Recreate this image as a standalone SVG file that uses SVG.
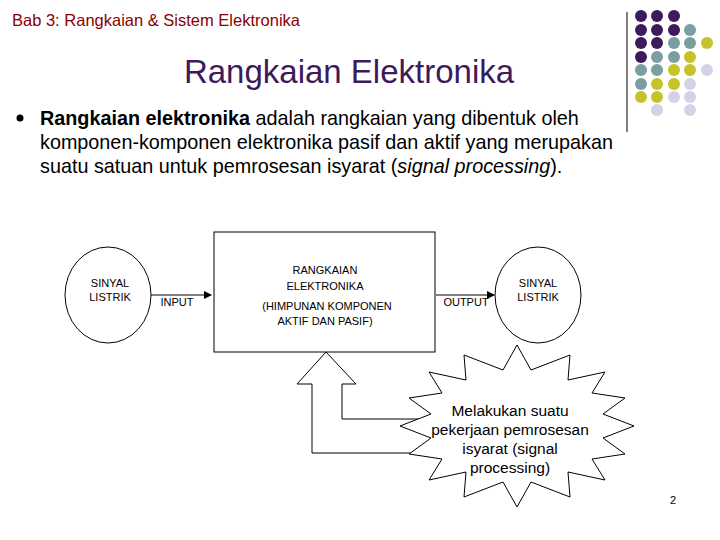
<svg xmlns="http://www.w3.org/2000/svg" width="720" height="540" viewBox="0 0 720 540">
<style>
text{font-family:"Liberation Sans",Arial,sans-serif}
.s{font-size:11px;text-anchor:middle}
.b{font-size:19.8px}
.ln{fill:none;stroke:#000;stroke-width:1}
.wf{fill:#fff;stroke:#000;stroke-width:1}
.P{fill:#3d1a5c}.T{fill:#7a9fa0}.Y{fill:#c6c32a}.L{fill:#d3d3e6}
</style>
<defs><marker id="ah" markerWidth="8" markerHeight="8" refX="7" refY="4" orient="auto" markerUnits="userSpaceOnUse"><path d="M0,0 L8,4 L0,8z"/></marker></defs>
<rect width="720" height="540" fill="#fff"/>
<text x="12" y="26" font-size="16.5" fill="#8b0000">Bab 3: Rangkaian &amp; Sistem Elektronika</text>
<line x1="627" y1="12" x2="627" y2="132" stroke="#000"/>
<g id="dots">
<circle class="P" cx="641" cy="16" r="6"/><circle class="P" cx="657" cy="16" r="6"/><circle class="P" cx="674" cy="16" r="6"/>
<circle class="P" cx="641" cy="30" r="6"/><circle class="P" cx="657" cy="30" r="6"/><circle class="P" cx="674" cy="30" r="6"/><circle class="T" cx="690" cy="30" r="6"/>
<circle class="P" cx="641" cy="43" r="6"/><circle class="P" cx="657" cy="43" r="6"/><circle class="T" cx="674" cy="43" r="6"/><circle class="T" cx="690" cy="43" r="6"/><circle class="Y" cx="707" cy="43" r="6"/>
<circle class="P" cx="641" cy="57" r="6"/><circle class="T" cx="657" cy="57" r="6"/><circle class="T" cx="674" cy="57" r="6"/><circle class="Y" cx="690" cy="57" r="6"/>
<circle class="T" cx="641" cy="70" r="6"/><circle class="T" cx="657" cy="70" r="6"/><circle class="Y" cx="674" cy="70" r="6"/><circle class="Y" cx="690" cy="70" r="6"/><circle class="L" cx="707" cy="70" r="6"/>
<circle class="T" cx="641" cy="84" r="6"/><circle class="Y" cx="657" cy="84" r="6"/><circle class="Y" cx="674" cy="84" r="6"/><circle class="L" cx="690" cy="84" r="6"/>
<circle class="Y" cx="641" cy="97" r="6"/><circle class="Y" cx="657" cy="97" r="6"/><circle class="L" cx="674" cy="97" r="6"/><circle class="L" cx="690" cy="97" r="6"/>
<circle class="L" cx="657" cy="110" r="6"/><circle class="L" cx="690" cy="110" r="6"/>
</g>
<text x="349" y="83" font-size="33" fill="#3d1a5c" text-anchor="middle">Rangkaian Elektronika</text>
<circle cx="20" cy="118" r="3.5" fill="#000"/>
<text class="b" x="40" y="125"><tspan font-weight="bold">Rangkaian elektronika</tspan> adalah rangkaian yang dibentuk oleh</text>
<text class="b" x="40" y="149">komponen-komponen elektronika pasif dan aktif yang merupakan</text>
<text class="b" x="40" y="173">suatu satuan untuk pemrosesan isyarat (<tspan font-style="italic">signal processing</tspan>).</text>
<g id="connectors">
<line class="ln" x1="151" y1="295" x2="211" y2="295" stroke-width="2" marker-end="url(#ah)"/>
<line class="ln" x1="436" y1="295" x2="494" y2="295" stroke-width="2" marker-end="url(#ah)"/>
<path id="blockarrow" class="ln" d="M440,419 L342,419 L342,384 L356,384 L326,352 L297,384 L312,384 L312,453 L440,453"/>
</g>
<g id="in"><ellipse class="ln" cx="108" cy="295" rx="43" ry="48"/><text class="s" x="110" y="287">SINYAL</text><text class="s" x="110" y="301">LISTRIK</text></g>
<text class="s" x="177" y="306">INPUT</text>
<g id="box"><rect class="ln" x="214" y="232" width="221" height="120"/>
<text class="s" x="325" y="274">RANGKAIAN</text><text class="s" x="325" y="290">ELEKTRONIKA</text>
<text class="s" x="327" y="310">(HIMPUNAN KOMPONEN</text><text class="s" x="325" y="325">AKTIF DAN PASIF)</text></g>
<text class="s" x="466" y="306">OUTPUT</text>
<g id="out"><ellipse class="ln" cx="538" cy="295" rx="43" ry="48"/><text class="s" x="538" y="287">SINYAL</text><text class="s" x="538" y="301">LISTRIK</text></g>
<g id="star">
<polygon class="wf" points="517,345 531,370 570,355 568,380 605,372 592,393 625,398 603,414 634,426 603,438 625,454 592,459 605,480 568,472 570,497 531,482 517,507 503,482 464,497 466,472 429,480 442,459 409,454 431,438 400,426 431,414 409,398 442,393 429,372 466,380 464,355 503,370"/>
<text x="510" y="416" font-size="15.5" text-anchor="middle">Melakukan suatu</text>
<text x="510" y="435" font-size="15.5" text-anchor="middle">pekerjaan pemrosesan</text>
<text x="510" y="454" font-size="15.5" text-anchor="middle">isyarat (signal</text>
<text x="510" y="473" font-size="15.5" text-anchor="middle">processing)</text>
</g>
<text x="673" y="504" font-size="11" text-anchor="middle">2</text>
</svg>
